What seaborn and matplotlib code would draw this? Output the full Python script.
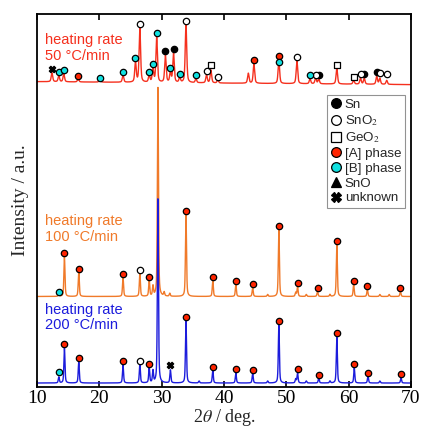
import numpy as np
import pandas as pd
import matplotlib
matplotlib.use("Agg")
import matplotlib.pyplot as plt
import seaborn as sns
from matplotlib.lines import Line2D

# ---------------- data ----------------
# 2theta peak positions (deg) and peak heights above baseline (arb. units)
red_peak_pos = [12.4, 13.5, 14.3, 16.6, 20.1, 23.8, 25.8, 26.5, 28.0, 28.6, 29.2, 30.6,
                31.4, 31.9, 32.9, 33.9, 35.5, 37.2, 37.9, 39.0, 43.9, 44.8, 48.8, 51.7,
                53.8, 54.7, 55.2, 58.1, 60.8, 61.9, 62.5, 64.5, 65.0, 66.1]
red_peak_int = [9, 6, 8, 3, 3, 7, 20, 55, 7, 14, 45, 27,
                10, 29, 5, 59, 4, 8, 13, 3, 10, 19, 24, 23,
                5, 6, 5, 16, 4, 6, 6, 8, 6, 4]
red_baseline = [307, 304]          # level at 2theta = 10 and 70

orange_peak_pos = [13.5, 14.4, 16.7, 23.8, 26.5, 28.0, 28.6, 29.4, 30.4, 31.3, 33.9,
                   38.2, 41.9, 44.6, 47.0, 48.8, 51.5, 51.8, 53.2, 55.0, 57.0, 58.1,
                   60.8, 63.0, 65.0, 66.5, 68.3]
orange_peak_int = [3, 40, 25, 19, 23, 16, 10, 210, 4, 3, 82,
                   16, 12, 9, 2, 67, 4, 10, 2, 5, 2, 52,
                   12, 7, 2, 2, 5]
orange_baseline = [91, 91]

blue_peak_pos = [13.5, 14.4, 16.7, 23.8, 26.5, 28.0, 28.6, 29.4, 31.4, 33.9, 36.0,
                 38.2, 41.9, 44.6, 47.0, 48.8, 51.5, 51.8, 53.2, 55.2, 57.0, 58.1,
                 60.9, 63.1, 65.0, 68.4]
blue_peak_int = [6, 35, 21, 18, 19, 15, 12, 185, 13, 62, 2,
                 13, 10, 10, 2, 58, 4, 10, 2, 5, 2, 46,
                 15, 7, 2, 5]
blue_baseline = [4, 4]

# phase markers: (2theta, phase, height)
red_marks_x = [12.4, 13.5, 14.3, 16.6, 20.1, 23.8, 25.8, 26.5, 28.0, 28.6, 29.2, 30.6,
               31.4, 31.9, 32.9, 33.9, 35.5, 37.2, 37.9, 39.0, 44.8, 48.8, 48.8, 51.7,
               53.8, 54.7, 55.2, 58.1, 60.8, 61.9, 62.5, 64.5, 65.0, 66.1]
red_marks_phase = ["unknown", "B", "B", "A", "B", "B", "B", "SnO2", "B", "B", "B", "Sn",
                   "B", "Sn", "B", "SnO2", "B", "SnO2", "GeO2", "SnO2", "A", "A", "B", "SnO2",
                   "B", "SnO2", "Sn", "GeO2", "GeO2", "SnO2", "Sn", "Sn", "SnO2", "SnO2"]
red_marks_y = [320, 317, 319, 313, 311, 317, 331, 365, 317, 325, 356, 338,
               321, 340, 315, 368, 314, 318, 324, 312, 329, 333, 327, 332,
               314, 314, 314, 324, 312, 315, 315, 317, 316, 315]

orange_marks_x = [13.5, 14.4, 16.7, 23.8, 26.5, 28.0, 33.9, 38.2, 41.9, 44.6, 48.8,
                  51.8, 55.0, 58.1, 60.8, 63.0, 68.3]
orange_marks_phase = ["B", "A", "A", "A", "SnO2", "A", "A", "A", "A", "A", "A",
                      "A", "A", "A", "A", "A", "A"]
orange_marks_y = [96, 135, 119, 114, 118, 111, 177, 111, 107, 104, 162,
                  105, 100, 147, 107, 102, 100]

blue_marks_x = [13.5, 14.4, 16.7, 23.8, 26.5, 28.0, 31.4, 33.9, 38.2, 41.9, 44.6,
                48.8, 51.8, 55.2, 58.1, 60.9, 63.1, 68.4]
blue_marks_phase = ["B", "A", "A", "A", "SnO2", "A", "unknown", "A", "A", "A", "A",
                    "A", "A", "A", "A", "A", "A", "A"]
blue_marks_y = [15, 43, 29, 26, 26, 23, 22, 70, 20, 18, 17,
                66, 18, 12, 54, 23, 14, 13]

series_labels = ["heating rate\n50 °C/min", "heating rate\n100 °C/min", "heating rate\n200 °C/min"]
legend_labels = ["Sn", "SnO$_2$", "GeO$_2$", "[A] phase", "[B] phase", "SnO", "unknown"]
x_ticks = [10, 20, 30, 40, 50, 60, 70]

# ---------------- styling ----------------
sns.set_theme(style="ticks")
plt.rcParams["font.family"] = ["Liberation Serif", "DejaVu Serif"]
plt.rcParams["mathtext.fontset"] = "stix"

RED = "#f5301e"
ORANGE = "#f07a2a"
BLUE = "#1c1cdc"

phase_style = {
    "Sn": dict(marker="o", fc="black", ec="black"),
    "SnO2": dict(marker="o", fc="white", ec="black"),
    "GeO2": dict(marker="s", fc="white", ec="black"),
    "A": dict(marker="o", fc="#ff2400", ec="black"),
    "B": dict(marker="o", fc="#10e0e0", ec="black"),
    "SnO": dict(marker="^", fc="black", ec="black"),
    "unknown": dict(marker="X", fc="black", ec="black"),
}
phase_order = ["Sn", "SnO2", "GeO2", "A", "B", "SnO", "unknown"]

fig = plt.figure(figsize=(4.22, 4.30), dpi=100)
ax = fig.add_axes([37 / 422, 43 / 430, 374 / 422, 373 / 430])

two_theta = np.arange(10.0, 70.0001, 0.01)


def pattern(pos, hts, fwhm, base):
    y = np.interp(two_theta, [10, 70], base)
    for p, h in zip(pos, hts):
        d = (two_theta - p) / (fwhm / 2)
        y = y + h * (0.5 / (1 + d ** 2) + 0.5 * np.exp(-np.log(2) * d ** 2))
    return y


curves = [
    (red_peak_pos, red_peak_int, 0.28, red_baseline, RED),
    (orange_peak_pos, orange_peak_int, 0.2, orange_baseline, ORANGE),
    (blue_peak_pos, blue_peak_int, 0.2, blue_baseline, BLUE),
]
for pos, hts, fw, base, col in curves:
    df = pd.DataFrame({"two_theta": two_theta, "I": pattern(pos, hts, fw, base)})
    sns.lineplot(data=df, x="two_theta", y="I", color=col, lw=1.0,
                 estimator=None, sort=False, ax=ax)

marks = [
    (red_marks_x, red_marks_phase, red_marks_y),
    (orange_marks_x, orange_marks_phase, orange_marks_y),
    (blue_marks_x, blue_marks_phase, blue_marks_y),
]
for mx, mp, my in marks:
    mdf = pd.DataFrame({"x": mx, "phase": mp, "y": my})
    for ph in phase_order:
        sub = mdf[mdf["phase"] == ph]
        if len(sub) == 0:
            continue
        st = phase_style[ph]
        sns.scatterplot(data=sub, x="x", y="y", marker=st["marker"], color=st["fc"],
                        edgecolor=st["ec"], linewidth=0.9, s=21, zorder=5, ax=ax,
                        legend=False)

# series labels
label_y = [341, 159, 70]
for txt, ly, col in zip(series_labels, label_y, [RED, ORANGE, BLUE]):
    ax.text(11.3, ly, txt, color=col, fontsize=10.5, va="center", ha="left",
            family=["Liberation Sans", "DejaVu Sans"], linespacing=1.15)

# legend
handles = []
for ph, lab in zip(phase_order, legend_labels):
    st = phase_style[ph]
    handles.append(Line2D([], [], linestyle="none", marker=st["marker"],
                          markerfacecolor=st["fc"], markeredgecolor=st["ec"],
                          markeredgewidth=0.9, markersize=7.0, label=lab))
leg = ax.legend(handles=handles, loc="upper right", bbox_to_anchor=(0.985, 0.784),
                borderaxespad=0, frameon=True, fancybox=False, handlelength=0.7,
                handletextpad=0.3, labelspacing=0.18, borderpad=0.3,
                prop={"family": ["Liberation Sans", "DejaVu Sans"], "size": 9.6})
leg.get_frame().set_edgecolor("#777777")
leg.get_frame().set_linewidth(0.8)

ax.set_xlim(10, 70)
ax.set_ylim(0, 375)
ax.set_xticks(x_ticks)
ax.set_xticklabels([str(t) for t in x_ticks])
ax.set_yticks([])
ax.tick_params(axis="x", direction="in", top=True, bottom=True, length=4.5,
               width=1.2, labelsize=14, pad=2.5, colors="black")
for sp in ax.spines.values():
    sp.set_visible(True)
    sp.set_linewidth(1.3)
    sp.set_color("black")
ax.set_xlabel(r"2$\theta$ / deg.", fontsize=13, labelpad=-0.5)
ax.set_ylabel("Intensity / a.u.", fontsize=14, labelpad=6)

fig.savefig("out.png", dpi=100)
